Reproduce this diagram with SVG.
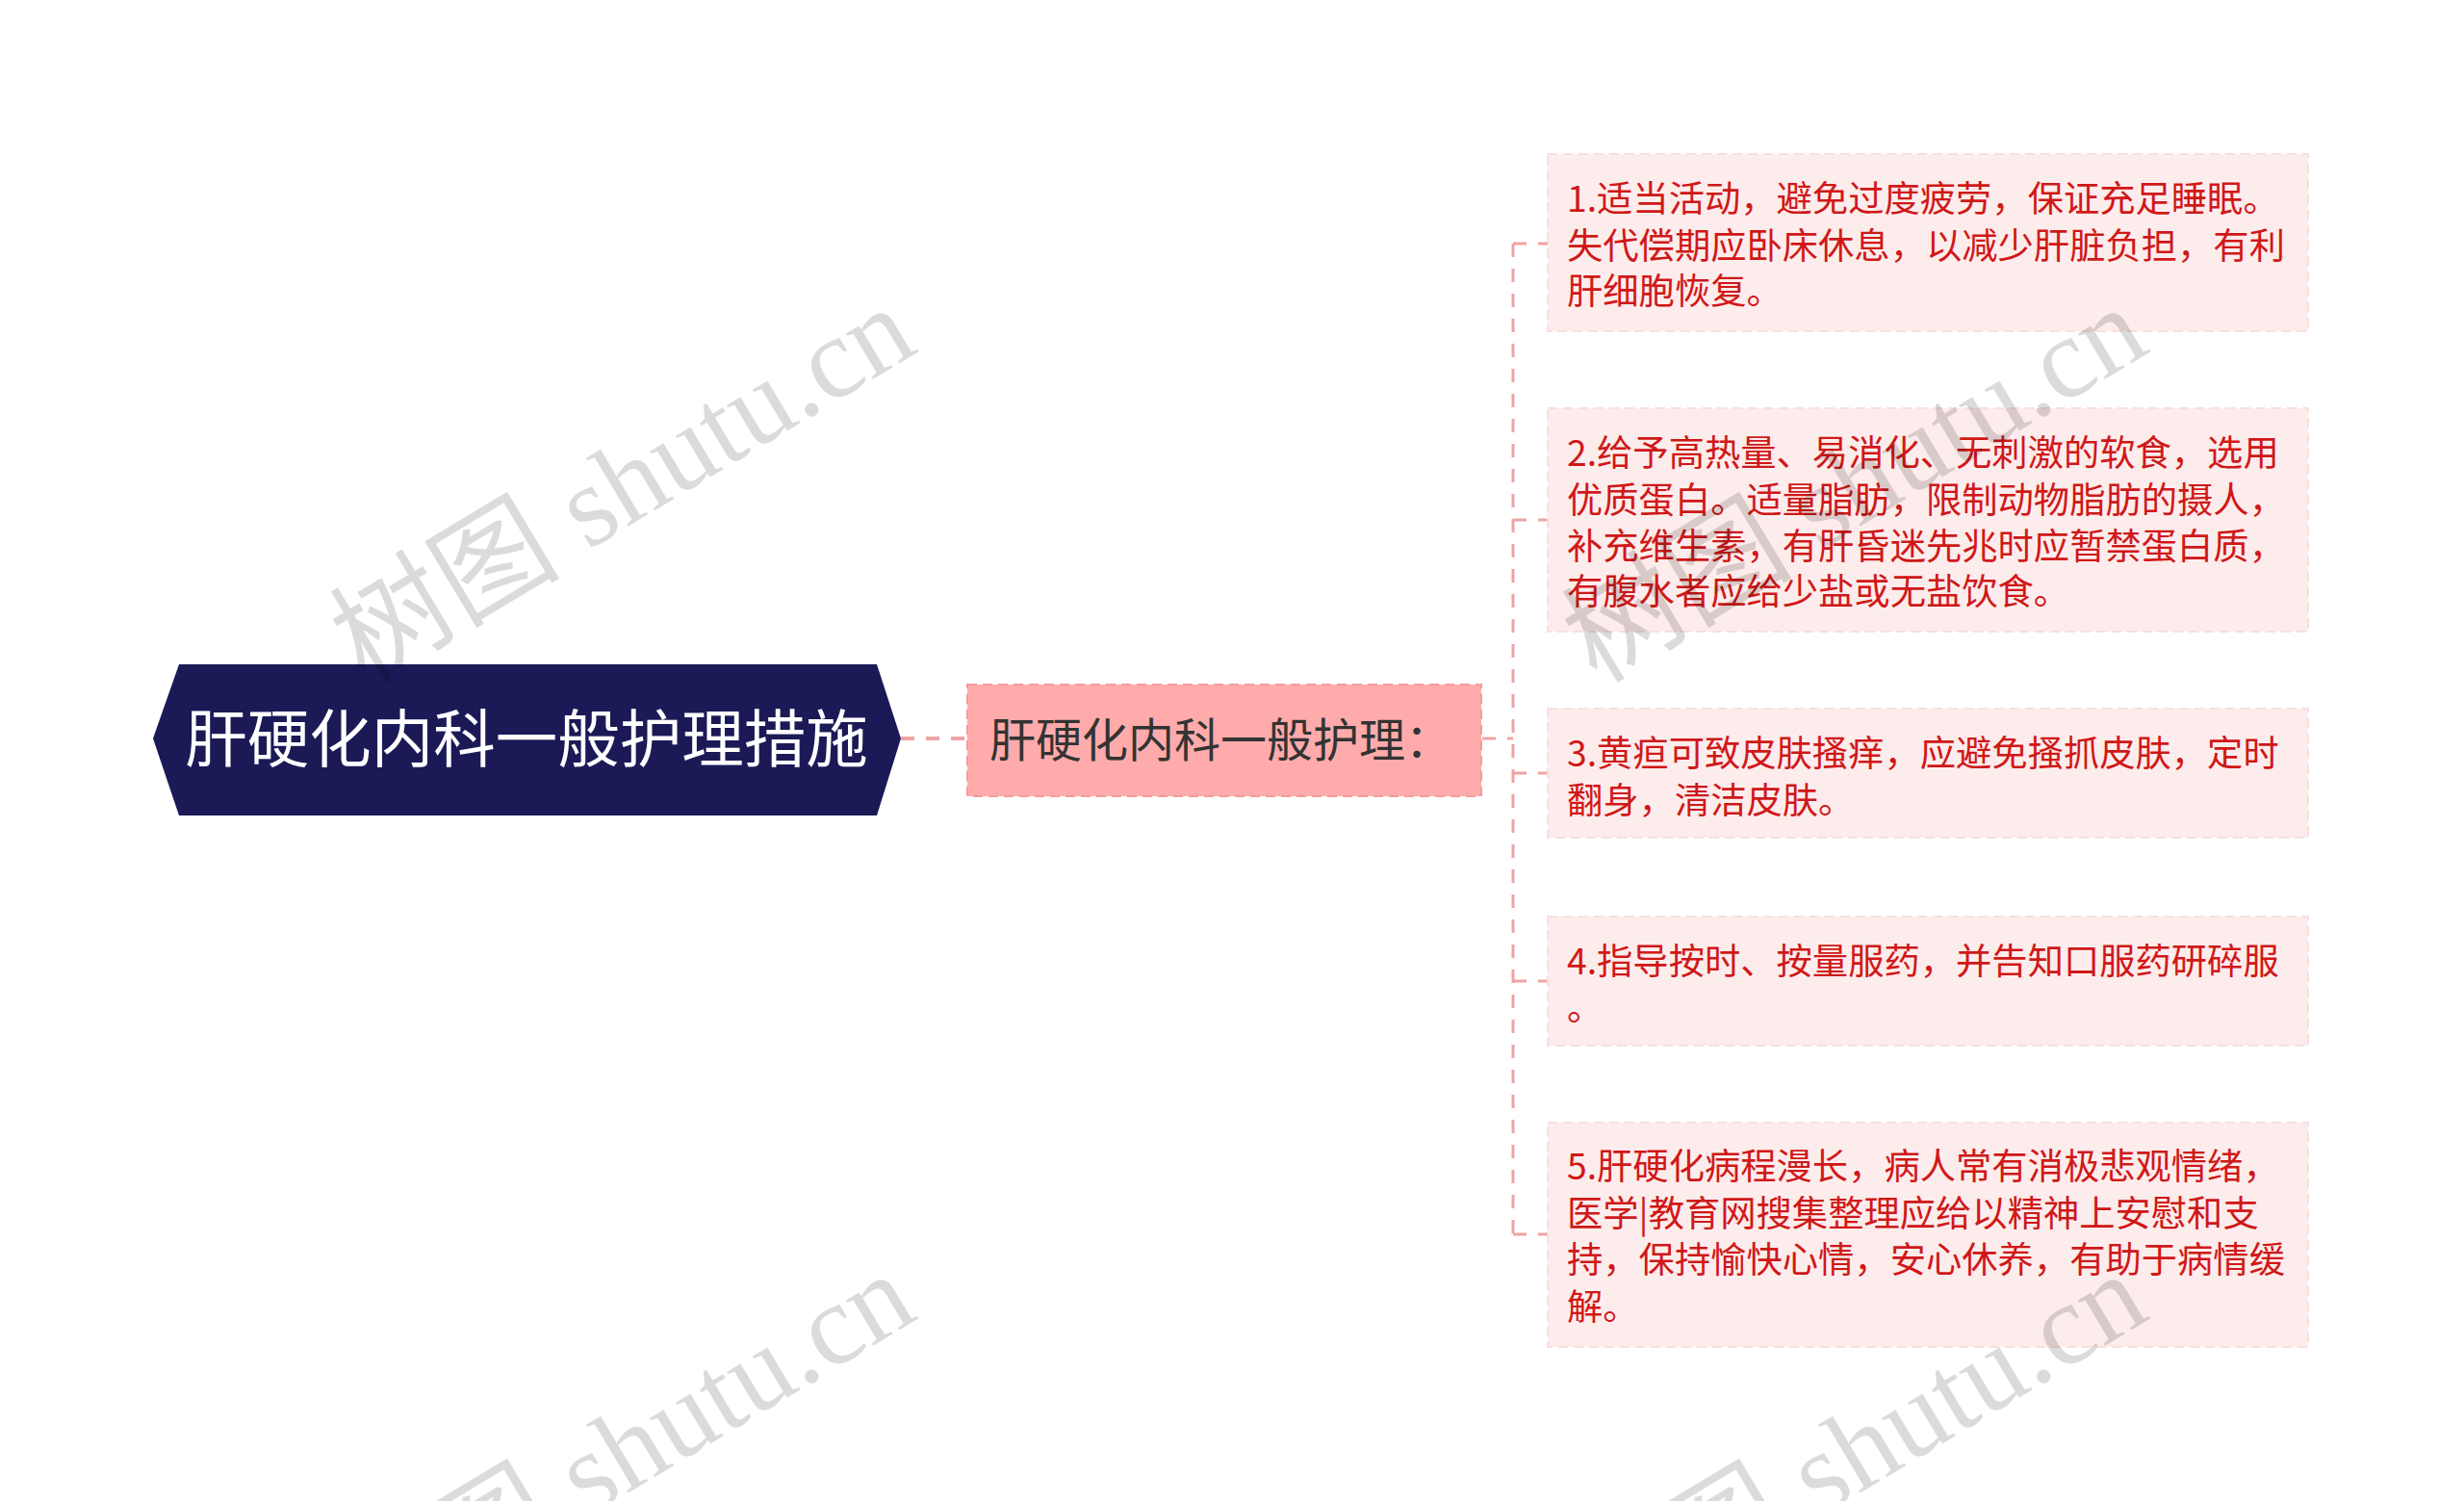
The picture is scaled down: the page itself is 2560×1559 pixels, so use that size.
<svg xmlns="http://www.w3.org/2000/svg" width="2560" height="1559" viewBox="0 0 2560 1559">
<style>
.t{font-family:"Noto Sans CJK SC","Noto Sans",sans-serif;}
.leaf rect{fill:#FDECEC;stroke:#FADEDE;stroke-width:2;stroke-dasharray:10 6;}
.leaf text{fill:#D01818;font-size:37.3px;}
.conn{fill:none;stroke:#EFA3A3;stroke-width:3;stroke-dasharray:14 12;}
.wm{font-family:"Liberation Serif","Noto Sans CJK SC",serif;font-size:120px;fill:#000;fill-opacity:0.14;}
</style>
<rect width="2560" height="1559" fill="#FFFFFF"/>
<g id="connectors">
<path class="conn" d="M936 767 H1005" style="stroke-width:4"/>
<path class="conn" d="M1540 767 H1572"/>
<path class="conn" d="M1572 253 V1282"/>
<path class="conn" d="M1572 253 H1608"/>
<path class="conn" d="M1572 540 H1608"/>
<path class="conn" d="M1572 803 H1608"/>
<path class="conn" d="M1572 1019 H1608"/>
<path class="conn" d="M1572 1282 H1608"/>
</g>
<g id="root">
<polygon points="159,767 186,690 911,690 936,767 911,847 186,847" fill="#1B1A57"/>
<text class="t" x="547" y="791" font-size="64.5" fill="#FFFFFF" text-anchor="middle">肝硬化内科一般护理措施</text>
</g>
<g id="mid">
<rect x="1005" y="711" width="534" height="116" fill="#FFABAB" stroke="#F59B9B" stroke-width="2" stroke-dasharray="10 6"/>
<text class="t" x="1028" y="786" font-size="48" fill="#333333">肝硬化内科一般护理：</text>
</g>
<g id="leaf1" class="leaf">
<rect x="1608" y="160" width="790" height="184"/>
<text class="t" x="1628" y="220">1.适当活动，避免过度疲劳，保证充足睡眠。</text>
<text class="t" x="1628" y="269">失代偿期应卧床休息，以减少肝脏负担，有利</text>
<text class="t" x="1628" y="316">肝细胞恢复。</text>
</g>
<g id="leaf2" class="leaf">
<rect x="1608" y="424" width="790" height="232"/>
<text class="t" x="1628" y="484">2.给予高热量、易消化、无刺激的软食，选用</text>
<text class="t" x="1628" y="533">优质蛋白。适量脂肪，限制动物脂肪的摄人，</text>
<text class="t" x="1628" y="581">补充维生素，有肝昏迷先兆时应暂禁蛋白质，</text>
<text class="t" x="1628" y="628">有腹水者应给少盐或无盐饮食。</text>
</g>
<g id="leaf3" class="leaf">
<rect x="1608" y="736" width="790" height="134"/>
<text class="t" x="1628" y="796">3.黄疸可致皮肤搔痒，应避免搔抓皮肤，定时</text>
<text class="t" x="1628" y="845">翻身，清洁皮肤。</text>
</g>
<g id="leaf4" class="leaf">
<rect x="1608" y="952" width="790" height="134"/>
<text class="t" x="1628" y="1012">4.指导按时、按量服药，并告知口服药研碎服</text>
<text class="t" x="1628" y="1060">。</text>
</g>
<g id="leaf5" class="leaf">
<rect x="1608" y="1166" width="790" height="233"/>
<text class="t" x="1628" y="1225">5.肝硬化病程漫长，病人常有消极悲观情绪，</text>
<text class="t" x="1628" y="1274">医学|教育网搜集整理应给以精神上安慰和支</text>
<text class="t" x="1628" y="1322">持，保持愉快心情，安心休养，有助于病情缓</text>
<text class="t" x="1628" y="1371">解。</text>
</g>
<g id="watermarks">
<text class="wm" transform="translate(379,711) rotate(-31)">树图 shutu.cn</text>
<text class="wm" transform="translate(1659,711) rotate(-31)">树图 shutu.cn</text>
<text class="wm" transform="translate(379,1715) rotate(-31)">树图 shutu.cn</text>
<text class="wm" transform="translate(1659,1715) rotate(-31)">树图 shutu.cn</text>
</g>
</svg>
